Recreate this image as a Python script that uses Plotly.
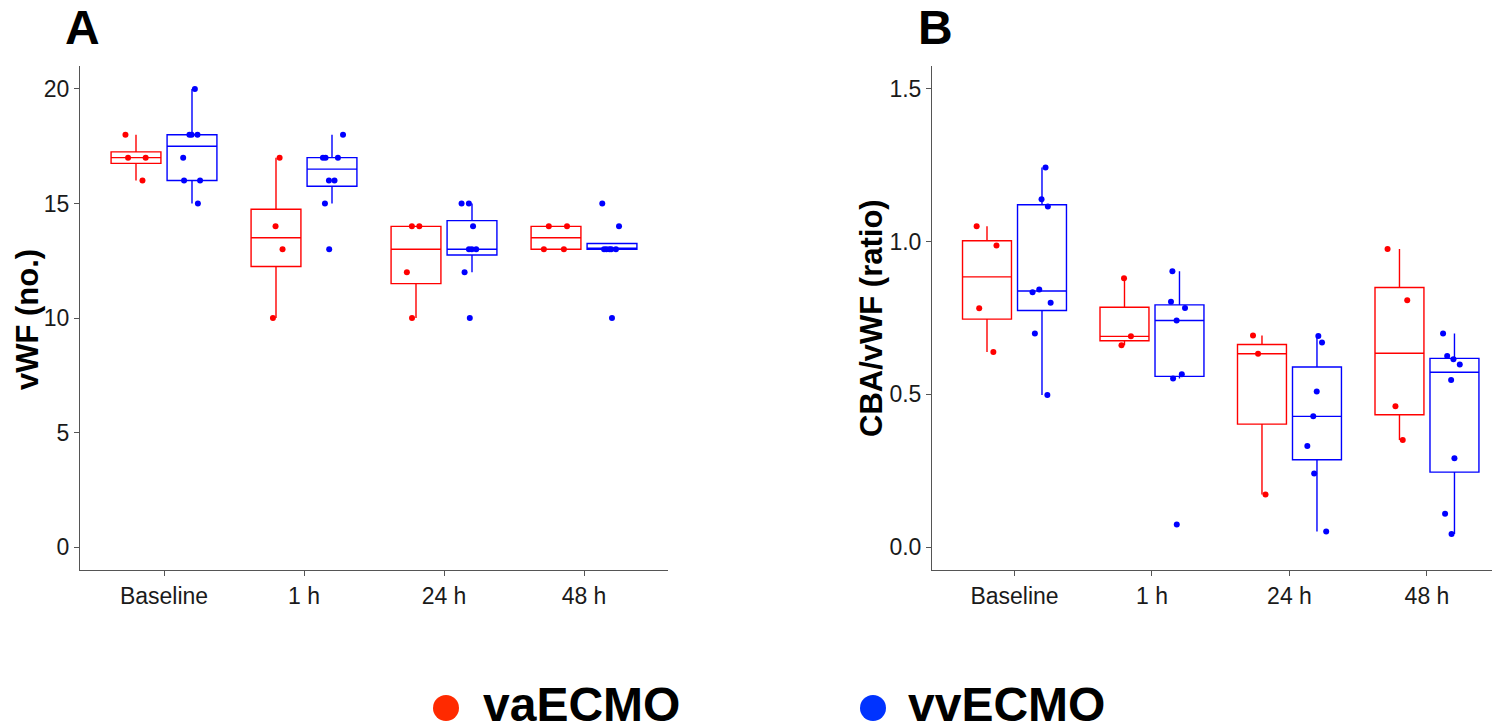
import numpy as np
import plotly.graph_objects as go

W, H = 1492, 727

times = ["Baseline", "1 h", "24 h", "48 h"]
group_names = ["vaECMO", "vvECMO"]
line_colors = ["#FF0000", "#0000FF"]
legend_colors = ["#FF2A00", "#0033FF"]

# Panel A: vWF (no.)
vwf_va = [[16, 17, 17, 18], [10, 13, 14, 17], [10, 12, 14, 14], [13, 13, 14, 14]]
vwf_vv = [[15, 16, 16, 17, 18, 18, 18, 20],
          [13, 15, 16, 16, 17, 17, 17, 18],
          [10, 12, 13, 13, 13, 14, 15, 15],
          [10, 13, 13, 13, 13, 13, 14, 15]]

# Panel B: CBA/vWF (ratio)
ratio_va = [[0.639, 0.782, 0.987, 1.050],
            [0.661, 0.690, 0.880],
            [0.172, 0.633, 0.693],
            [0.351, 0.461, 0.808, 0.976]]
ratio_vv = [[0.498, 0.699, 0.800, 0.834, 0.843, 1.115, 1.139, 1.243],
            [0.074, 0.552, 0.566, 0.742, 0.783, 0.803, 0.903],
            [0.051, 0.241, 0.331, 0.428, 0.509, 0.670, 0.691],
            [0.043, 0.109, 0.291, 0.547, 0.598, 0.615, 0.626, 0.699]]

yticks_a = [0, 5, 10, 15, 20]
yticks_b = [0.0, 0.5, 1.0, 1.5]


def box_stats(samples):
    out = {"q1": [], "median": [], "q3": [], "lowerfence": [], "upperfence": []}
    for s in samples:
        a = np.sort(np.asarray(s, dtype=float))
        q1, med, q3 = np.percentile(a, [25, 50, 75])
        iqr = q3 - q1
        inside = a[(a >= q1 - 1.5 * iqr) & (a <= q3 + 1.5 * iqr)]
        out["q1"].append(float(q1))
        out["median"].append(float(med))
        out["q3"].append(float(q3))
        out["lowerfence"].append(float(inside.min()))
        out["upperfence"].append(float(inside.max()))
    return out


fig = go.Figure()

panels = [("x", "y", [vwf_va, vwf_vv]), ("x2", "y2", [ratio_va, ratio_vv])]
for xa, ya, series in panels:
    for gi, samples in enumerate(series):
        st = box_stats(samples)
        fig.add_trace(go.Box(
            x=times, y=samples, **st,
            name=group_names[gi], offsetgroup=group_names[gi],
            boxpoints="all", jitter=0.5, pointpos=0,
            marker=dict(color=line_colors[gi], size=6),
            line=dict(color=line_colors[gi], width=1.4),
            fillcolor="rgba(0,0,0,0)", whiskerwidth=0,
            xaxis=xa, yaxis=ya, showlegend=False, hoverinfo="skip",
        ))

axis_common = dict(showline=True, linecolor="#555555", linewidth=1,
                   ticks="outside", ticklen=5, tickcolor="#555555",
                   showgrid=False, zeroline=False,
                   tickfont=dict(family="Liberation Sans", size=23, color="#1a1a1a"))

ydom = [(H - 570) / H, (H - 66) / H]

fig.update_layout(
    width=W, height=H,
    margin=dict(l=0, r=0, t=0, b=0),
    paper_bgcolor="white", plot_bgcolor="white",
    boxmode="group", boxgap=0.2, boxgroupgap=0.11,
    xaxis=dict(domain=[80 / W, 668 / W], type="category", categoryorder="array",
               categoryarray=times, range=[-0.6, 3.6], anchor="y", **axis_common),
    yaxis=dict(domain=ydom, range=[-1, 21], tickvals=yticks_a, anchor="x", **axis_common),
    xaxis2=dict(domain=[932 / W, 1.0], type="category", categoryorder="array",
                categoryarray=times, range=[-0.6, 3.473], anchor="y2", **axis_common),
    yaxis2=dict(domain=ydom, range=[-0.075, 1.575], tickvals=yticks_b, tickformat=".1f",
                anchor="x2", **axis_common),
)

bold = dict(family="Liberation Sans", color="black")
annotations = [
    dict(text="<b>A</b>", x=63 / W, y=(H - 27) / H, xanchor="left", yanchor="middle",
         font=dict(size=48, **bold)),
    dict(text="<b>B</b>", x=916 / W, y=(H - 27) / H, xanchor="left", yanchor="middle",
         font=dict(size=48, **bold)),
    dict(text="<b>vWF (no.)</b>", x=27 / W, y=(H - 320) / H, textangle=-90,
         xanchor="center", yanchor="middle", font=dict(size=31, **bold)),
    dict(text="<b>CBA/vWF (ratio)</b>", x=872 / W, y=(H - 318) / H, textangle=-90,
         xanchor="center", yanchor="middle", font=dict(size=31, **bold)),
    dict(text="<b>vaECMO</b>", x=481 / W, y=(H - 704) / H, xanchor="left", yanchor="middle",
         font=dict(size=48, **bold)),
    dict(text="<b>vvECMO</b>", x=906 / W, y=(H - 704) / H, xanchor="left", yanchor="middle",
         font=dict(size=48, **bold)),
]
for a in annotations:
    a.update(xref="paper", yref="paper", showarrow=False)
fig.update_layout(annotations=annotations)

shapes = []
for cx, col in [(446, legend_colors[0]), (873, legend_colors[1])]:
    shapes.append(dict(type="circle", xref="paper", yref="paper",
                       x0=(cx - 13) / W, x1=(cx + 13) / W,
                       y0=(H - 721) / H, y1=(H - 695) / H,
                       fillcolor=col, line=dict(width=0)))
fig.update_layout(shapes=shapes)

fig.write_html("out.html")
